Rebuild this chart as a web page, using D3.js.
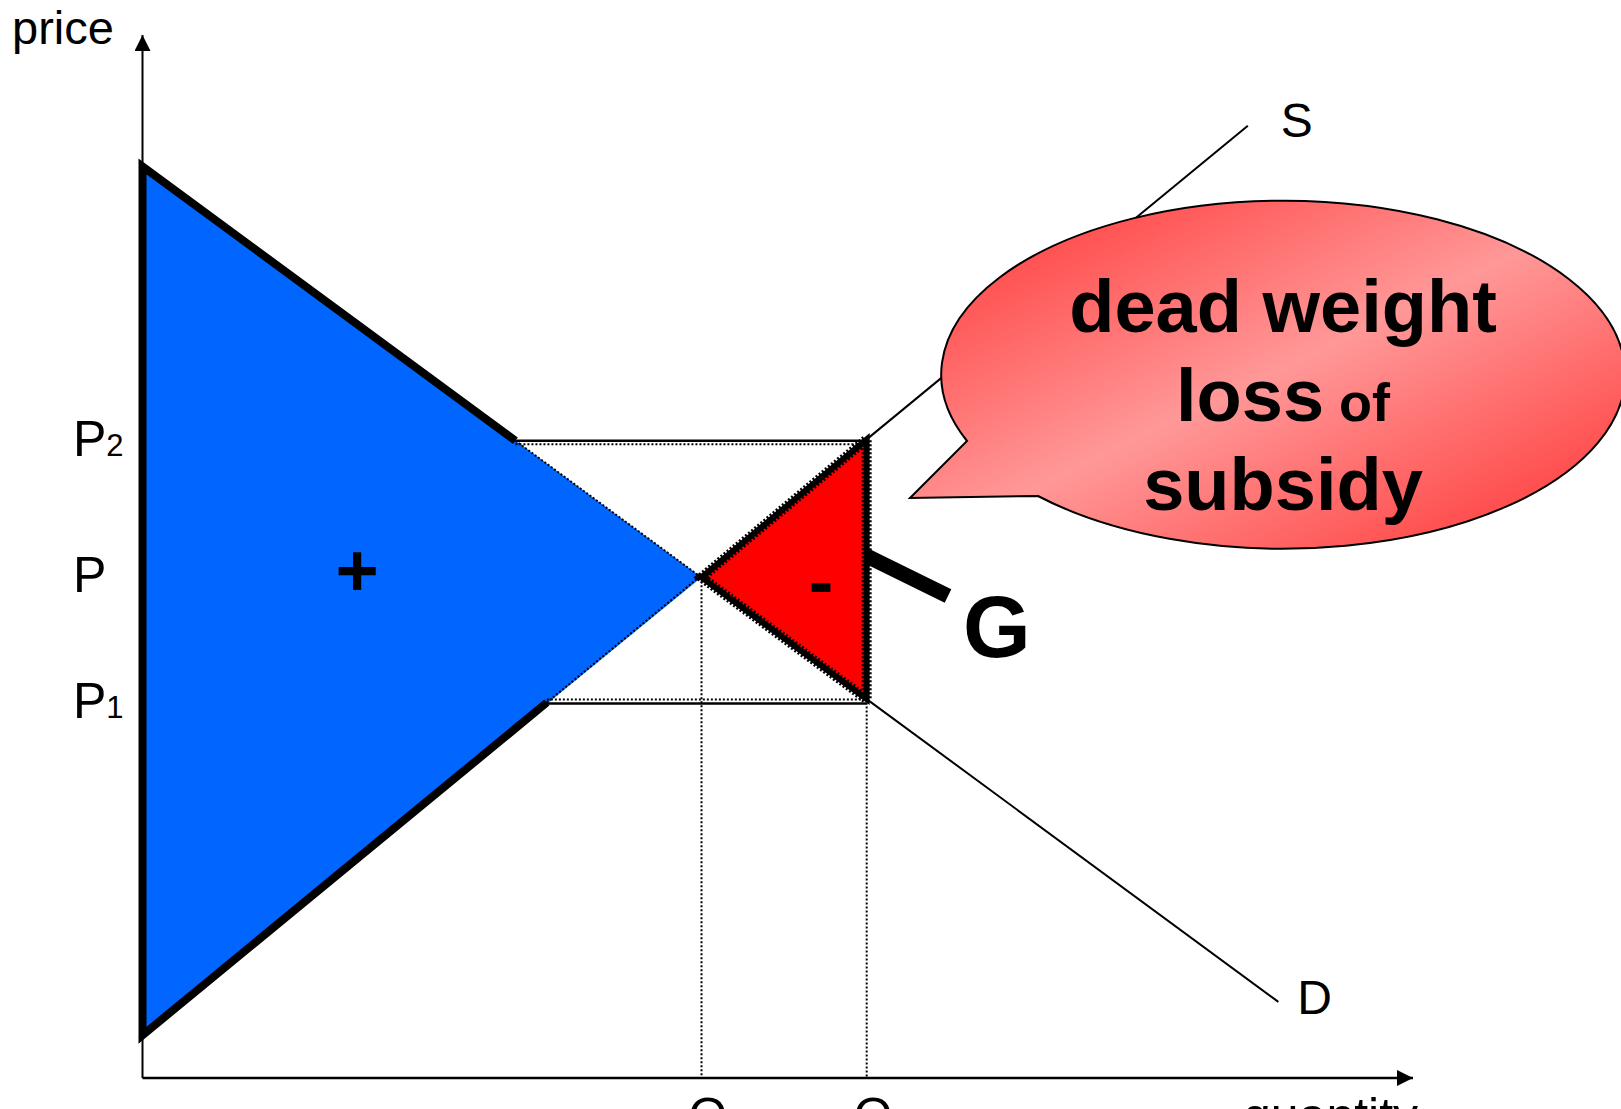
<!DOCTYPE html>
<html>
<head>
<meta charset="utf-8">
<script src="https://cdn.jsdelivr.net/npm/d3@7"></script>
<style>
  html, body { margin: 0; padding: 0; background: #fff; }
  svg { display: block; }
  text { font-family: "Liberation Sans", Arial, Helvetica, sans-serif; }
</style>
</head>
<body>
<div id="wrapper"></div>
<script>
// Curves (quantity, price) in chart units
const demandPoints = [[0, 87.4], [89.4, 7.3]];
const supplyPoints = [[0, 4.1], [87.0, 91.3]];

// Key levels
const quantityLevels = [44, 57];          // Q0 (equilibrium), Q1 (with subsidy)
const quantityLabels = ["0", "1"];
const priceLevels = [61.1, 48.0, 36.0];   // P2, P, P1
const priceLabels = [["P", "2"], ["P", ""], ["P", "1"]];

// Bubble text
const bubbleLines = [["dead weight", ""], ["loss", " of"], ["subsidy", ""]];

function drawChart() {
  const width = 1621;
  const height = 1109;
  let dimensions = {
    width: width,
    height: height,
    margin: { top: 35, right: 208, bottom: 31, left: 142.5 },
  };
  dimensions.boundedWidth = dimensions.width - dimensions.margin.left - dimensions.margin.right;
  dimensions.boundedHeight = dimensions.height - dimensions.margin.top - dimensions.margin.bottom;

  const svg = d3.select("#wrapper")
    .append("svg")
      .attr("width", dimensions.width)
      .attr("height", dimensions.height);

  const defs = svg.append("defs");
  const grad = defs.append("linearGradient")
    .attr("id", "bubbleFill")
    .attr("x1", "0").attr("y1", "0")
    .attr("x2", "1").attr("y2", "1");
  grad.append("stop").attr("offset", "0").attr("stop-color", "#ff3030");
  grad.append("stop").attr("offset", "0.5").attr("stop-color", "#ff9898");
  grad.append("stop").attr("offset", "1").attr("stop-color", "#ff3030");

  ["arrowUp", "arrowRight"].forEach(id => {
    defs.append("marker")
      .attr("id", id)
      .attr("viewBox", "0 0 10 10")
      .attr("refX", 10).attr("refY", 5)
      .attr("markerWidth", 16).attr("markerHeight", 16)
      .attr("markerUnits", "userSpaceOnUse")
      .attr("orient", "auto")
      .append("path")
        .attr("d", "M0,0 L10,5 L0,10 Z")
        .attr("fill", "#000");
  });

  // Scales
  const xScale = d3.scaleLinear()
    .domain([0, 100])
    .range([dimensions.margin.left, dimensions.width - dimensions.margin.right]);
  const yScale = d3.scaleLinear()
    .domain([0, 100])
    .range([dimensions.height - dimensions.margin.bottom, dimensions.margin.top]);

  const demand = d3.scaleLinear().domain(demandPoints.map(d => d[0])).range(demandPoints.map(d => d[1]));
  const supply = d3.scaleLinear().domain(supplyPoints.map(d => d[0])).range(supplyPoints.map(d => d[1]));

  const [q0, q1] = quantityLevels;
  const [p2, p0, p1] = priceLevels;
  const qDemandAtP2 = demand.invert(p2);
  const qSupplyAtP1 = supply.invert(p1);

  const line = d3.line().x(d => xScale(d[0])).y(d => yScale(d[1]));

  const chart = svg.append("g");

  // Surplus / loss areas
  chart.append("path")
    .attr("d", line([[0, demand(0)], [q0, p0], [0, supply(0)]]) + "Z")
    .attr("fill", "#0066ff");
  chart.append("path")
    .attr("d", line([[q0, p0], [q1, supply(q1)], [q1, demand(q1)]]) + "Z")
    .attr("fill", "#ff0000");

  // Dotted guides
  const dotted = [
    { pts: [[qDemandAtP2, p2], [q1, demand(q1)]], dy: 0 },
    { pts: [[qSupplyAtP1, p1], [q1, supply(q1)]], dy: 0 },
    { pts: [[qDemandAtP2, p2], [q1, p2]], dy: 3.5 },
    { pts: [[qSupplyAtP1, p1], [q1, p1]], dy: -3 },
    { pts: [[q0, p0], [q0, 0]], dy: 0 },
    { pts: [[q1, p1], [q1, 0]], dy: 0 },
  ];
  chart.selectAll(".dotted")
    .data(dotted)
    .join("path")
      .attr("class", "dotted")
      .attr("d", d => line(d.pts))
      .attr("transform", d => `translate(0,${d.dy})`)
      .attr("fill", "none")
      .attr("stroke", "#000")
      .attr("stroke-width", 2)
      .attr("stroke-dasharray", "2,2");

  // Dotted fringe around the loss triangle
  chart.append("path")
    .attr("d", line([[q0, p0], [q1, supply(q1)], [q1, demand(q1)]]) + "Z")
    .attr("fill", "none")
    .attr("stroke", "#000")
    .attr("stroke-width", 10)
    .attr("stroke-dasharray", "2,2");

  // Solid price bands
  chart.append("path")
    .attr("d", line([[qDemandAtP2, p2], [q1, p2]]))
    .attr("stroke", "#000").attr("stroke-width", 2.5).attr("fill", "none");
  chart.append("path")
    .attr("d", line([[qSupplyAtP1, p1], [q1, p1]]))
    .attr("transform", "translate(0,1)")
    .attr("stroke", "#000").attr("stroke-width", 2.5).attr("fill", "none");

  // Thin demand and supply curves
  chart.append("path")
    .attr("d", line([[q1, demand(q1)], demandPoints[1]]))
    .attr("stroke", "#000").attr("stroke-width", 2).attr("fill", "none");
  chart.append("path")
    .attr("d", line([[q1, supply(q1)], supplyPoints[1]]))
    .attr("stroke", "#000").attr("stroke-width", 2).attr("fill", "none");

  // Axes
  chart.append("line")
    .attr("x1", xScale(0)).attr("y1", yScale(0))
    .attr("x2", xScale(0)).attr("y2", yScale(100))
    .attr("stroke", "#000").attr("stroke-width", 2)
    .attr("marker-end", "url(#arrowUp)");
  chart.append("line")
    .attr("x1", xScale(0)).attr("y1", yScale(0))
    .attr("x2", xScale(100)).attr("y2", yScale(0))
    .attr("stroke", "#000").attr("stroke-width", 2.5)
    .attr("marker-end", "url(#arrowRight)");

  // Thick outlines
  chart.append("path")
    .attr("d", line([[qDemandAtP2, p2], [0, demand(0)], [0, supply(0)], [qSupplyAtP1, p1]]))
    .attr("fill", "none")
    .attr("stroke", "#000")
    .attr("stroke-width", 8)
    .attr("stroke-linejoin", "miter");
  chart.append("path")
    .attr("d", line([[q0, p0], [q1, supply(q1)], [q1, demand(q1)]]) + "Z")
    .attr("fill", "none")
    .attr("stroke", "#000")
    .attr("stroke-width", 6);

  // Axis labels
  svg.append("text")
    .attr("x", 12).attr("y", 44)
    .attr("font-size", 47)
    .text("price");

  const pLabels = svg.selectAll(".plabel")
    .data(priceLevels)
    .join("text")
      .attr("class", "plabel")
      .attr("x", 73)
      .attr("y", d => yScale(d) + 15)
      .attr("font-size", 50);
  pLabels.append("tspan").text((d, i) => priceLabels[i][0]);
  pLabels.append("tspan").attr("font-size", 31).text((d, i) => priceLabels[i][1]);

  const qLabels = svg.selectAll(".qlabel")
    .data(quantityLevels)
    .join("text")
      .attr("class", "qlabel")
      .attr("x", d => xScale(d) - 13)
      .attr("y", 1133)
      .attr("font-size", 50);
  qLabels.append("tspan").text("Q");
  qLabels.append("tspan").attr("font-size", 31).text((d, i) => quantityLabels[i]);

  svg.append("text")
    .attr("x", 1243).attr("y", 1133)
    .attr("font-size", 50)
    .text("quantity");

  svg.append("text")
    .attr("x", xScale(supplyPoints[1][0]) + 33)
    .attr("y", yScale(supplyPoints[1][1]) + 11)
    .attr("font-size", 48)
    .text("S");
  svg.append("text")
    .attr("x", xScale(demandPoints[1][0]) + 19)
    .attr("y", yScale(demandPoints[1][1]) + 12)
    .attr("font-size", 48)
    .text("D");

  // Area signs
  svg.append("text")
    .attr("x", 357).attr("y", yScale(p0) + 19)
    .attr("text-anchor", "middle")
    .attr("font-size", 74).attr("font-weight", "bold")
    .text("+");
  svg.append("text")
    .attr("x", 821).attr("y", yScale(p0) + 30)
    .attr("text-anchor", "middle")
    .attr("font-size", 74).attr("font-weight", "bold")
    .text("-");

  // G pointer
  svg.append("line")
    .attr("x1", xScale(q1)).attr("y1", 556)
    .attr("x2", 948).attr("y2", 596)
    .attr("stroke", "#000").attr("stroke-width", 15);
  svg.append("text")
    .attr("x", 963).attr("y", 657)
    .attr("font-size", 87).attr("font-weight", "bold")
    .text("G");

  // Speech bubble
  const cx = 1283, cy = 374, rx = 342, ry = 174;
  svg.append("path")
    .attr("d", `M1038,496 L910,498 L967,441 A${rx},${ry} 0 1 1 1038,496 Z`)
    .attr("fill", "url(#bubbleFill)")
    .attr("stroke", "#000")
    .attr("stroke-width", 2);

  const bubbleText = svg.selectAll(".btext")
    .data(bubbleLines)
    .join("text")
      .attr("class", "btext")
      .attr("x", cx)
      .attr("y", (d, i) => 332 + i * 89)
      .attr("text-anchor", "middle")
      .attr("font-size", 74)
      .attr("font-weight", "bold");
  bubbleText.append("tspan").text(d => d[0]);
  bubbleText.append("tspan").attr("font-size", 54).text(d => d[1]);
}
drawChart();
</script>
</body>
</html>
